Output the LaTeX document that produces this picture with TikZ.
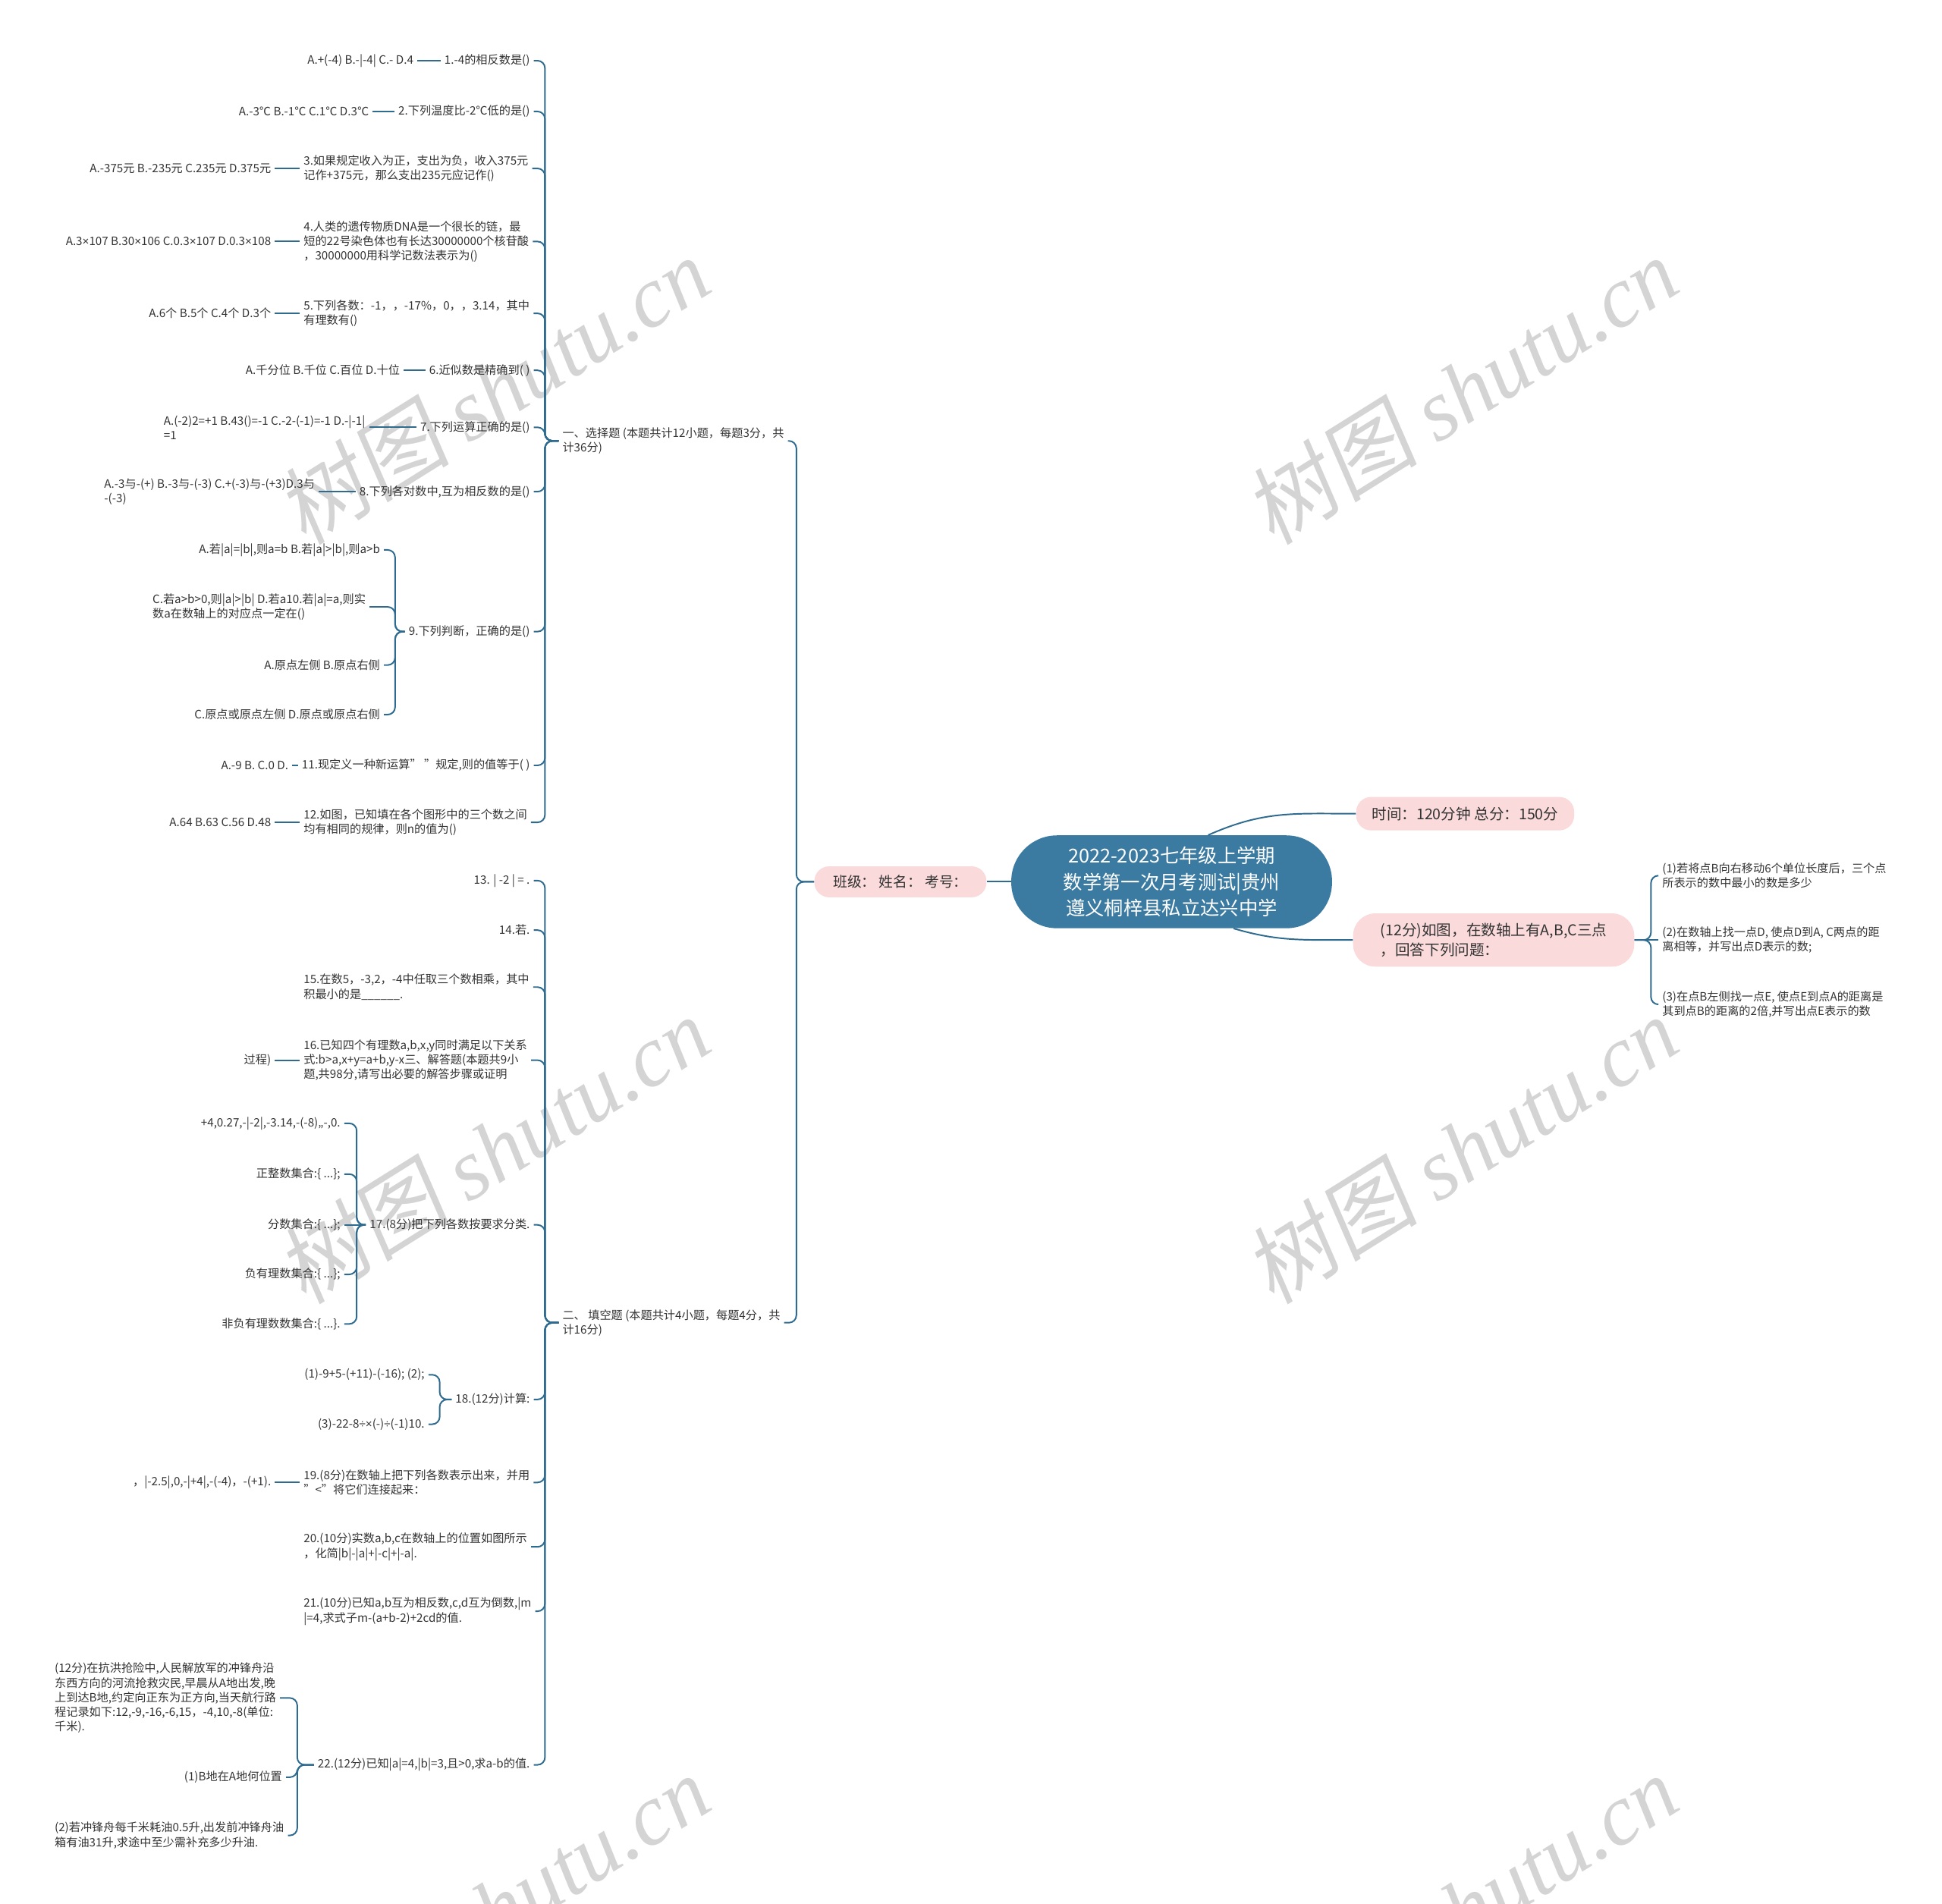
\documentclass[tikz,border=0pt]{standalone}
\usepackage{fontspec}
\usepackage{tikz}
\usepackage{xcolor}
\setmainfont{Noto Sans CJK SC}
\newfontfamily\wmlatin{Liberation Serif}
\newfontfamily\wmhan[FakeSlant=0.15]{Noto Sans CJK SC}
\newfontfamily\opfont{Liberation Sans}
\newcommand\tms{{\opfont ×}}
\newcommand\dvd{{\opfont ÷}}

\definecolor{rootblue}{HTML}{3B7BA2}
\definecolor{linkblue}{HTML}{2F6B8F}
\definecolor{tagpink}{HTML}{FADADA}
\definecolor{inkgray}{HTML}{333333}

\tikzset{
  leaf/.style={inner sep=3pt, text=inkgray, font=\fontsize{9.3}{11.8}\selectfont},
  leafl/.style={leaf, anchor=west, align=left},
  leafr/.style={leaf, anchor=east, align=right},
  tag/.style={fill=tagpink, rounded corners=12pt, text=inkgray, inner sep=2pt,
    font=\fontsize{12}{16}\selectfont},
  rootbox/.style={fill=rootblue, text=white, align=center, rounded corners=37pt,
    minimum width=259pt, minimum height=75pt, font=\fontsize{15.5}{21}\selectfont},
  link/.style={draw=linkblue, line width=1.2pt, rounded corners=6pt},
  wmark/.style={text=black!17, rotate=32, font=\fontsize{70}{70}\selectfont}
}

\begin{document}
\begin{tikzpicture}[x=1pt, y=-1pt]
    \useasboundingbox (0,0) rectangle (1568,1537);

    % watermarks
    \foreach \wx/\wy in {398/315, 1180/315, 398/928, 1180/928, 398/1541, 1180/1541}
        \node[wmark] (wm-\wx-\wy) at (\wx,\wy) {{\wmhan 树图} {\wmlatin\itshape shutu.cn}};

    % centre and first level
    \node[rootbox] (root) at (946,712) {2022-2023七年级上学期\\数学第一次月考测试|贵州\\遵义桐梓县私立达兴中学};
    \node[tag, minimum width=139pt, minimum height=25pt, font=\fontsize{11.5}{15}\selectfont] (cls) at (727,712) {班级： 姓名： 考号：};
    \node[tag, minimum width=176pt, minimum height=27pt] (tm) at (1183,657) {时间：120分钟 总分：150分};
    \node[tag, minimum width=227pt, minimum height=43pt, rounded corners=18pt, align=left] (q23) at (1206,759) {(12分)如图，在数轴上有A,B,C三点\\，回答下列问题：};

    % right branch
    \node[leafl] (r1) at (1339,707) {(1)若将点B向右移动6个单位长度后，三个点\\所表示的数中最小的数是多少};
    \node[leafl] (r2) at (1339,759) {(2)在数轴上找一点D, 使点D到A, C两点的距\\离相等，并写出点D表示的数;};
    \node[leafl] (r3) at (1339,811) {(3)在点B左侧找一点E, 使点E到点A的距离是\\其到点B的距离的2倍,并写出点E表示的数};

    % sections
    \node[leafl] (s1) at (451,356) {一、选择题 (本题共计12小题，每题3分，共\\计36分)};
    \node[leafl] (s2) at (451,1068) {二、 填空题 (本题共计4小题，每题4分，共\\计16分)};

    % section one
    \node[leafr] (q1) at (431,49) {1.-4的相反数是()};
    \node[leafr] (a1) at (337,49) {A.+(-4) B.-|-4| C.- D.4};
    \node[leafr] (q2) at (431,90) {2.下列温度比-2℃低的是()};
    \node[leafr] (a2) at (301,90) {A.-3℃ B.-1℃ C.1℃ D.3℃};
    \node[leafl] (q3) at (242,136) {3.如果规定收入为正，支出为负，收入375元\\记作+375元，那么支出235元应记作()};
    \node[leafr] (a3) at (222,136) {A.-375元 B.-235元 C.235元 D.375元};
    \node[leafl] (q4) at (242,195) {4.人类的遗传物质DNA是一个很长的链，最\\短的22号染色体也有长达30000000个核苷酸\\，30000000用科学记数法表示为()};
    \node[leafr] (a4) at (222,195) {A.3\tms 107 B.30\tms 106 C.0.3\tms 107 D.0.3\tms 108};
    \node[leafl] (q5) at (242,253) {5.下列各数：-1，，-17\%，0，，3.14，其中\\有理数有()};
    \node[leafr] (a5) at (222,253) {A.6个 B.5个 C.4个 D.3个};
    \node[leafr] (q6) at (431,299) {6.近似数是精确到( )};
    \node[leafr] (a6) at (326,299) {A.千分位 B.千位 C.百位 D.十位};
    \node[leafr] (q7) at (431,345) {7.下列运算正确的是()};
    \node[leafl] (a7) at (129,345) {A.(-2)2=+1 B.43()=-1 C.-2-(-1)=-1 D.-|-1|\\=1};
    \node[leafr] (q8) at (431,397) {8.下列各对数中,互为相反数的是()};
    \node[leafl] (a8) at (81,397) {A.-3与-(+) B.-3与-(-3) C.+(-3)与-(+3)D.3与\\-(-3)};
    \node[leafr] (q9) at (431,510) {9.下列判断，正确的是()};
    \node[leafr] (a9a) at (310,444) {A.若|a|=|b|,则a=b B.若|a|>|b|,则a>b};
    \node[leafl] (a9b) at (120,490) {C.若a>b>0,则|a|>|b| D.若a10.若|a|=a,则实\\数a在数轴上的对应点一定在()};
    \node[leafr] (a9c) at (310,537) {A.原点左侧 B.原点右侧};
    \node[leafr] (a9d) at (310,577) {C.原点或原点左侧 D.原点或原点右侧};
    \node[leafr] (q11) at (431,618) {11.现定义一种新运算" "规定,则的值等于( )};
    \node[leafr] (a11) at (236,618) {A.-9 B. C.0 D.};
    \node[leafl] (q12) at (242,664) {12.如图，已知填在各个图形中的三个数之间\\均有相同的规律，则n的值为()};
    \node[leafr] (a12) at (222,664) {A.64 B.63 C.56 D.48};

    % section two
    \node[leafr] (q13) at (431,711) {13. | -2 | = .};
    \node[leafr] (q14) at (431,751) {14.若.};
    \node[leafl] (q15) at (242,797) {15.在数5，-3,2，-4中任取三个数相乘，其中\\积最小的是\_\_\_\_\_\_.};
    \node[leafl] (q16) at (242,856) {16.已知四个有理数a,b,x,y同时满足以下关系\\式:b>a,x+y=a+b,y-x三、解答题(本题共9小\\题,共98分,请写出必要的解答步骤或证明};
    \node[leafr] (a16) at (222,856) {过程)};
    \node[leafr] (q17) at (431,989) {17.(8分)把下列各数按要求分类.};
    \node[leafr] (a17a) at (278,907) {+4,0.27,-|-2|,-3.14,-(-8),,-,0.};
    \node[leafr] (a17b) at (278,948) {正整数集合:\{ ...\};};
    \node[leafr] (a17c) at (278,989) {分数集合:\{ ...\};};
    \node[leafr] (a17d) at (278,1029) {负有理数集合:\{ ...\};};
    \node[leafr] (a17e) at (278,1069) {非负有理数数集合:\{ ...\}.};
    \node[leafr] (q18) at (431,1130) {18.(12分)计算:};
    \node[leafr] (a18a) at (346,1110) {(1)-9+5-(+11)-(-16); (2);};
    \node[leafr] (a18b) at (346,1150) {(3)-22-8\dvd\tms(-)\dvd(-1)10.};
    \node[leafl] (q19) at (242,1197) {19.(8分)在数轴上把下列各数表示出来，并用\\"<"将它们连接起来：};
    \node[leafr] (a19) at (222,1197) {，|-2.5|,0,-|+4|,-(-4)，-(+1).};
    \node[leafl] (q20) at (242,1249) {20.(10分)实数a,b,c在数轴上的位置如图所示\\，化简|b|-|a|+|-c|+|-a|.};
    \node[leafl] (q21) at (242,1301) {21.(10分)已知a,b互为相反数,c,d互为倒数,|m\\|=4,求式子m-(a+b-2)+2cd的值.};
    \node[leafr] (q22) at (431,1425) {22.(12分)已知|a|=4,|b|=3,且>0,求a-b的值.};
    \node[leafl] (a22a) at (41,1371) {(12分)在抗洪抢险中,人民解放军的冲锋舟沿\\东西方向的河流抢救灾民,早晨从A地出发,晚\\上到达B地,约定向正东为正方向,当天航行路\\程记录如下:12,-9,-16,-6,15，-4,10,-8(单位:\\千米).};
    \node[leafr] (a22b) at (231,1435) {(1)B地在A地何位置};
    \node[leafl] (a22c) at (41,1482) {(2)若冲锋舟每千米耗油0.5升,出发前冲锋舟油\\箱有油31升,求途中至少需补充多少升油.};

    % brace columns
    \coordinate (b0) at (643,0);
    \coordinate (b1) at (440,0);
    \coordinate (b9) at (319,0);
    \coordinate (b17) at (288,0);
    \coordinate (b18) at (355,0);
    \coordinate (b22) at (240,0);
    \coordinate (bR) at (1333,0);

    % connectors
    \draw[link] (cls.east) -- (root.west);
    \draw[link] (root.52) .. controls +(45,-20) and +(-50,0) .. (tm.west);
    \draw[link] (root.-37) .. controls +(35,10) and +(-45,0) .. (q23.west);
    \draw[link] (q23.east) -- (r2.west);
    \foreach \c in {r1,r3}
        \draw[link] (q23.east) -- (q23.east -| bR) -- (\c.west -| bR) -- (\c.west);
    \foreach \c in {s1,s2}
        \draw[link] (cls.west) -- (cls.west -| b0) -- (\c.east -| b0) -- (\c.east);
    \foreach \c in {q1,q2,q3,q4,q5,q6,q7,q8,q9,q11,q12}
        \draw[link] (s1.west) -- (s1.west -| b1) -- (\c.east -| b1) -- (\c.east);
    \foreach \c in {q13,q14,q15,q16,q17,q18,q19,q20,q21,q22}
        \draw[link] (s2.west) -- (s2.west -| b1) -- (\c.east -| b1) -- (\c.east);
    \foreach \q/\a in {q1/a1,q2/a2,q3/a3,q4/a4,q5/a5,q6/a6,q7/a7,q8/a8,q11/a11,q12/a12,q16/a16,q19/a19,q17/a17c}
        \draw[link] (\q.west) -- (\a.east);
    \foreach \c in {a9a,a9b,a9c,a9d}
        \draw[link] (q9.west) -- (q9.west -| b9) -- (\c.east -| b9) -- (\c.east);
    \foreach \c in {a17a,a17b,a17d,a17e}
        \draw[link] (q17.west) -- (q17.west -| b17) -- (\c.east -| b17) -- (\c.east);
    \foreach \c in {a18a,a18b}
        \draw[link] (q18.west) -- (q18.west -| b18) -- (\c.east -| b18) -- (\c.east);
    \foreach \c in {a22a,a22b,a22c}
        \draw[link] (q22.west) -- (q22.west -| b22) -- (\c.east -| b22) -- (\c.east);
\end{tikzpicture}
\end{document}
